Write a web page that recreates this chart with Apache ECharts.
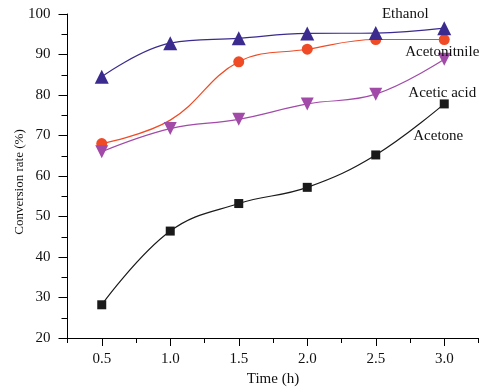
<!DOCTYPE html>
<html>
<head>
<meta charset="utf-8">
<script src="https://cdn.jsdelivr.net/npm/echarts@6/dist/echarts.min.js"></script>
<style>
  html, body { margin: 0; padding: 0; background: #fff; }
  #chart { width: 486px; height: 390px; }
</style>
</head>
<body>
<div id="chart"></div>
<script>
// data
var times = [0.5, 1.0, 1.5, 2.0, 2.5, 3.0];
var ethanol = [84.5, 92.8, 94.0, 95.2, 95.3, 96.5];
var acetonitrile = [68.0, 73.8, 88.2, 91.3, 93.7, 93.7];
var aceticAcid = [66.0, 71.7, 74.0, 77.8, 80.2, 88.8];
var acetone = [28.2, 46.4, 53.2, 57.2, 65.2, 77.8];
var xLabels = [0.5, 1.0, 1.5, 2.0, 2.5, 3.0];

var font = 'Liberation Serif, Times New Roman, serif';

function pairs(vals) {
  return times.map(function (t, i) { return [t, vals[i]]; });
}

// series name shown next to its last point
function endName(name, dx, dy) {
  return {
    show: true,
    position: 'inside',
    offset: [dx, dy],
    color: '#111',
    fontFamily: font,
    fontSize: 15,
    formatter: function (p) { return p.dataIndex === times.length - 1 ? name : ''; }
  };
}

function line(name, vals, color, symbol, size, rotate, lbl) {
  return {
    name: name,
    type: 'line',
    smooth: 0.4,
    data: pairs(vals),
    symbol: symbol,
    symbolSize: size,
    symbolRotate: rotate,
    lineStyle: { color: color, width: 1.2 },
    itemStyle: { color: color },
    label: lbl,
    z: 3
  };
}

var nitrile = line('Acetonitnile', acetonitrile, '#ef4b26', 'circle', 11, 0, endName('Acetonitnile', -2, 13));
// no marker was drawn at 1.0 h for this curve in the figure
nitrile.symbolSize = function (v, p) { return p.dataIndex === 1 ? 0 : 11; };

var chart = echarts.init(document.getElementById('chart'));
chart.setOption({
  animation: false,
  grid: { left: 67.5, right: 7.5, top: 14, bottom: 52, outerBoundsMode: 'none' },
  xAxis: [{
    type: 'value',
    min: 0.25, max: 3.25, interval: 0.25,
    axisLine: { lineStyle: { color: '#000', width: 1 } },
    axisTick: { length: 5, lineStyle: { color: '#000' } },
    axisLabel: { show: false },
    splitLine: { show: false },
    name: 'Time (h)',
    nameLocation: 'middle',
    nameGap: 34,
    nameMoveOverlap: false,
    nameTextStyle: { color: '#111', fontFamily: font, fontSize: 15 }
  }, {
    type: 'value',
    min: 0.25, max: 3.25,
    position: 'bottom',
    axisLine: { show: false },
    axisTick: { length: 8, customValues: xLabels, lineStyle: { color: '#000' } },
    axisLabel: {
      customValues: xLabels, margin: 14, color: '#111',
      fontFamily: font, fontSize: 15,
      formatter: function (v) { return v.toFixed(1); }
    },
    splitLine: { show: false }
  }],
  yAxis: {
    type: 'value',
    min: 20, max: 100, interval: 10,
    axisLine: { show: true, lineStyle: { color: '#000', width: 1 } },
    axisTick: { show: true, length: 9, lineStyle: { color: '#000' } },
    minorTick: { show: true, splitNumber: 2, length: 6, lineStyle: { color: '#000' } },
    axisLabel: { margin: 17, color: '#111', fontFamily: font, fontSize: 15 },
    splitLine: { show: false },
    name: 'Conversion rate (%)',
    nameLocation: 'middle',
    nameGap: 41,
    nameMoveOverlap: false,
    nameTextStyle: { color: '#111', fontFamily: font, fontSize: 13, padding: [0, 12, 0, 0] }
  },
  series: [
    line('Acetone', acetone, '#1a1a1a', 'rect', 9, 0, endName('Acetone', -6, 32)),
    nitrile,
    line('Acetic acid', aceticAcid, '#a24aa8', 'triangle', 13, 180, endName('Acetic acid', -2, 34)),
    line('Ethanol', ethanol, '#3b2b8e', 'triangle', 14, 0, endName('Ethanol', -39, -14))
  ]
});
</script>
</body>
</html>
